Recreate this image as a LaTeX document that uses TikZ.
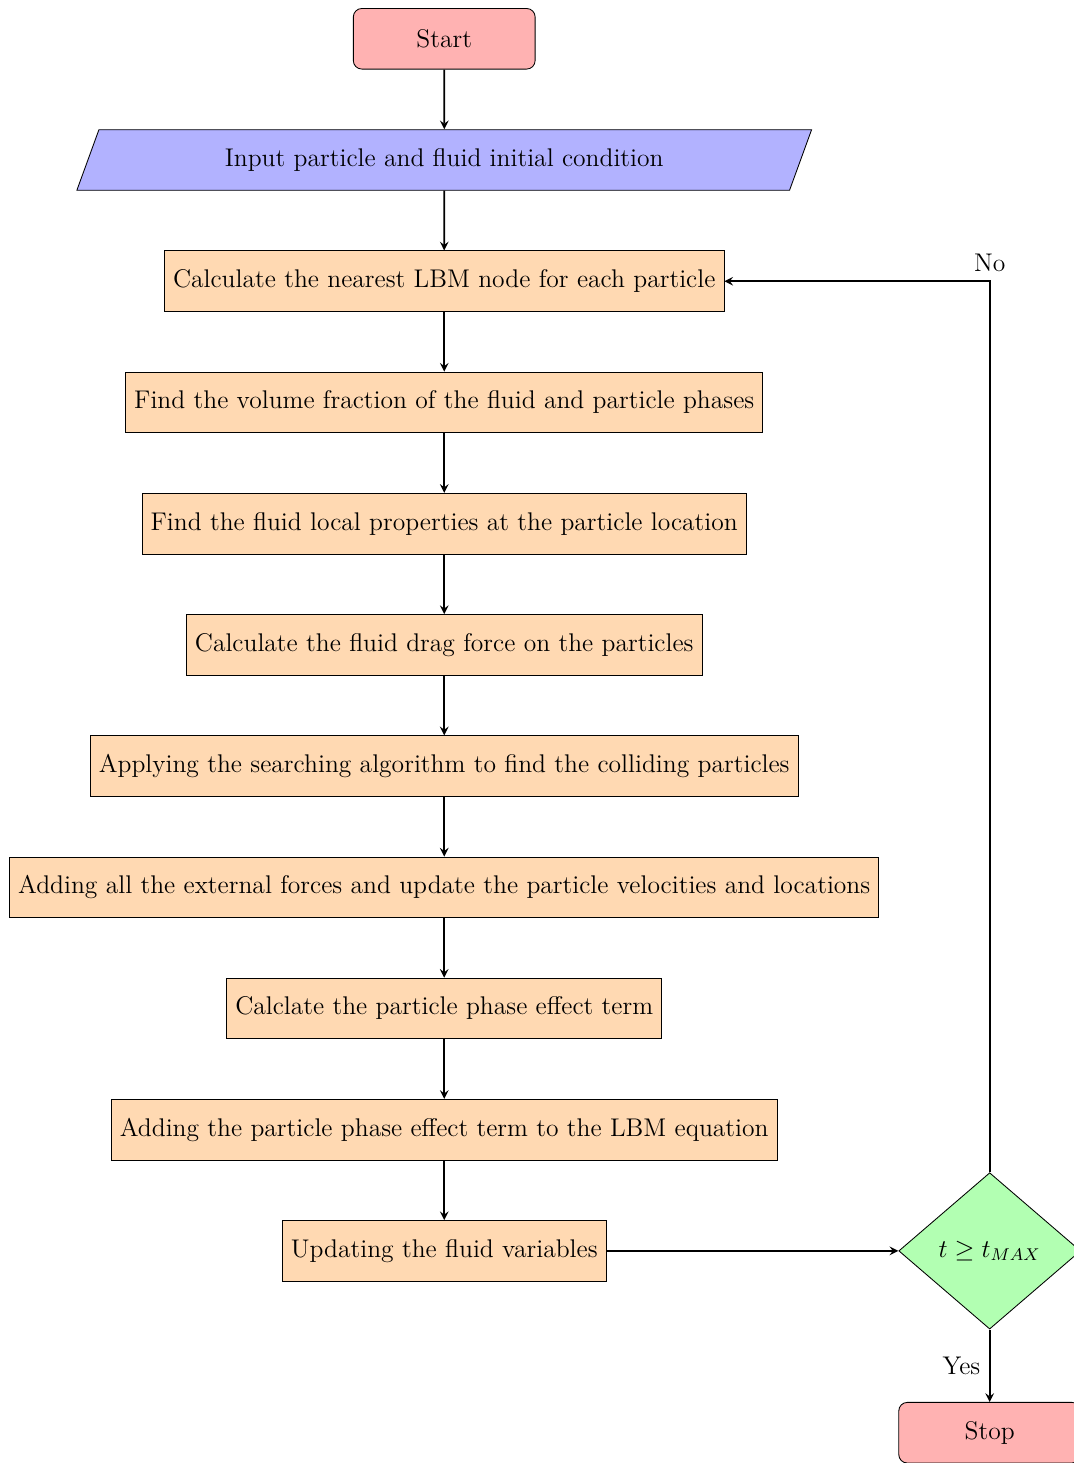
\documentclass[12pt,tikz,border=0pt]{standalone}
\usetikzlibrary{shapes.geometric,positioning,arrows}

\newcommand*{\checkx}{9cm}
\newcommand*{\stopy}{-3cm}

\begin{document}
\begin{tikzpicture}
[
	node distance=2cm,on grid,
	startstop/.style={rectangle,rounded corners,minimum width=3cm,minimum height=1cm,text centered,draw=black,fill=red!30},
	io/.style={trapezium,trapezium left angle=70,trapezium right angle=110,minimum width=3cm,minimum height=1cm,text centered,draw=black,fill=blue!30},
	process/.style={rectangle,minimum width=3cm,minimum height=1cm,text centered,draw=black,fill=orange!30},
	decision/.style={diamond,minimum width=3cm,minimum height=1cm,text centered,draw=black,fill=green!30},
	flow/.style={thick,->,>=stealth}
]

	\useasboundingbox (-7.33,0.64) rectangle (10.38,-23.5);

	% main column
	\node (start) [startstop] {Start};
	\node (input) [io,below=of start] {Input particle and fluid initial condition};
	\node (nearest) [process,below=of input] {Calculate the nearest LBM node for each particle};
	\node (volfrac) [process,below=of nearest] {Find the volume fraction of the fluid and particle phases};
	\node (fluidprop) [process,below=of volfrac] {Find the fluid local properties at the particle location};
	\node (drag) [process,below=of fluidprop] {Calculate the fluid drag force on the particles};
	\node (search) [process,below=of drag] {Applying the searching algorithm to find the colliding particles};
	\node (extforce) [process,below=of search] {Adding all the external forces and update the particle velocities and locations};
	\node (phaseterm) [process,below=of extforce] {Calclate the particle phase effect term};
	\node (addterm) [process,below=of phaseterm] {Adding the particle phase effect term to the LBM equation};
	\node (fluidvar) [process,below=of addterm] {Updating the fluid variables};

	% time check and end
	\node (check) [decision] at ([xshift=\checkx]fluidvar.center) {$t \geq t_{MAX}$};
	\node (stop) [startstop] at ([yshift=\stopy]check.center) {Stop};

	\draw[flow] (start) -- (input);
	\draw[flow] (input) -- (nearest);
	\draw[flow] (nearest) -- (volfrac);
	\draw[flow] (volfrac) -- (fluidprop);
	\draw[flow] (fluidprop) -- (drag);
	\draw[flow] (drag) -- (search);
	\draw[flow] (search) -- (extforce);
	\draw[flow] (extforce) -- (phaseterm);
	\draw[flow] (phaseterm) -- (addterm);
	\draw[flow] (addterm) -- (fluidvar);
	\draw[flow] (fluidvar) -- (check);
	\draw[flow] (check) -- node[left] {Yes} (stop);
	\draw[flow] (check.north) |- node[pos=0.5,above] {No} (nearest.east);

\end{tikzpicture}
\end{document}
